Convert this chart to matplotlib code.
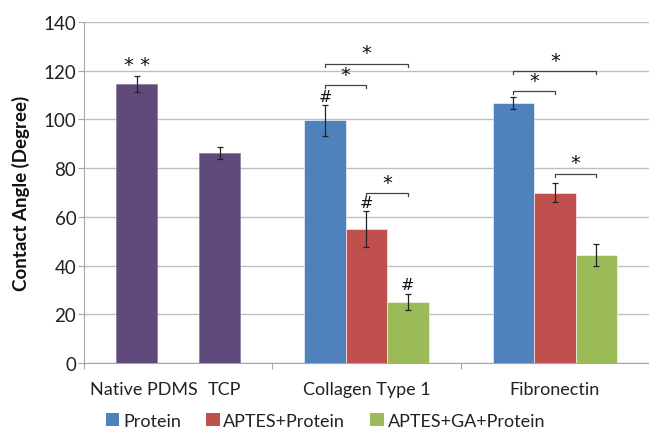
import matplotlib
matplotlib.use("Agg")
import matplotlib.pyplot as plt
from matplotlib.patches import Patch

plt.rcParams['font.family'] = ['Lato', 'DejaVu Sans']

# ---- data ----
controls = ["Native PDMS", "TCP"]
control_values = [114.4, 86.3]
control_err = [3.3, 2.4]

groups = ["Collagen Type 1", "Fibronectin"]
series = ["Protein", "APTES+Protein", "APTES+GA+Protein"]
protein = [99.6, 106.7]
protein_err = [6.5, 2.4]
aptes_protein = [54.9, 69.8]
aptes_protein_err = [7.4, 3.9]
aptes_ga_protein = [24.9, 44.2]
aptes_ga_protein_err = [3.3, 4.5]

yticks = [0, 20, 40, 60, 80, 100, 120, 140]
ylabel = "Contact Angle (Degree)"

# significance brackets: (group index, series a, series b, height)
brackets = [(0, 0, 1, 114.1), (0, 0, 2, 122.9), (0, 1, 2, 69.8),
            (1, 0, 1, 111.5), (1, 0, 2, 119.9), (1, 1, 2, 77.7)]
# '#' marks: (group index, series index, height)
hash_marks = [(0, 0, 109.5), (0, 1, 65.7), (0, 2, 32.4)]
control_mark = "* *"
control_mark_y = 122.7

colors = ["#4F81BD", "#C0504D", "#9BBB59"]
purple = "#604A7B"

fig = plt.figure(figsize=(6.49, 4.31), dpi=100)
ax = fig.add_axes([0.1294, 0.1555, 0.8706, 0.7911])

w = 0.22
# controls in first category
ctrl_x = [-w, w]
ax.bar(ctrl_x, control_values, width=w, color=purple, edgecolor="#8A7AA0", linewidth=0.5, zorder=3)
ax.errorbar(ctrl_x, control_values, yerr=control_err, fmt="none", ecolor="#222222",
            elinewidth=0.9, capsize=2.5, capthick=0.9, zorder=4)

gx = [1, 2]
all_series = [(protein, protein_err), (aptes_protein, aptes_protein_err),
              (aptes_ga_protein, aptes_ga_protein_err)]
for i, (vals, errs) in enumerate(all_series):
    xs = [g + (i - 1) * w for g in gx]
    ax.bar(xs, vals, width=w, color=colors[i], edgecolor="white", linewidth=0.4, zorder=3)
    ax.errorbar(xs, vals, yerr=errs, fmt="none", ecolor="#222222",
                elinewidth=0.9, capsize=2.5, capthick=0.9, zorder=4)

# significance
for g, a, b, h in brackets:
    x1 = gx[g] + (a - 1) * w
    x2 = gx[g] + (b - 1) * w
    ax.plot([x1, x1, x2, x2], [h - 1.2, h, h, h - 1.2], color="#444444", lw=0.9, zorder=5)
    ax.text((x1 + x2) / 2, h + 0.6, "*", ha="center", va="bottom", fontsize=14,
            family="DejaVu Sans", color="#111111")
for g, s, h in hash_marks:
    ax.text(gx[g] + (s - 1) * w, h, "#", ha="center", va="center", fontsize=11.5,
            family="DejaVu Sans", color="#111111")
ax.text(ctrl_x[0], control_mark_y, control_mark, ha="center", va="center", fontsize=14,
        family="DejaVu Sans", color="#111111")

ax.set_xlim(-0.5, 2.5)
ax.set_ylim(0, 140)
ax.set_yticks(yticks)
ax.yaxis.grid(True, color="#BFBFBF", lw=1.0, zorder=0)
ax.set_axisbelow(True)
for s in ["top", "right"]:
    ax.spines[s].set_visible(False)
ax.spines["left"].set_color("#A6A6A6")
ax.spines["bottom"].set_color("#A6A6A6")
ax.tick_params(axis="y", colors="#A6A6A6", length=4.5, pad=1.0, labelcolor="#222222", labelsize=13.5)
ax.set_xticks([-0.5, 0.5, 1.5])
ax.set_xticklabels([])
ax.tick_params(axis="x", colors="#A6A6A6", length=4.5)

label_x = [-0.18, 0.246, 1, 2]
for lx, lab in zip(label_x, controls + groups):
    ax.text(lx, -10.5, lab, ha="center", va="center", fontsize=13.0, color="#222222")

ax.set_ylabel(ylabel, fontsize=13.5, fontweight="bold", color="#111111", labelpad=10)

handles = [Patch(facecolor=c, edgecolor="none") for c in colors]
fig.legend(handles, series, loc="center", bbox_to_anchor=(0.5015, 0.022), ncol=3,
           frameon=False, fontsize=13.0, handlelength=0.75, handleheight=0.75,
           handletextpad=0.2, columnspacing=1.4, labelcolor="#222222")

fig.savefig("out.png", dpi=100)
